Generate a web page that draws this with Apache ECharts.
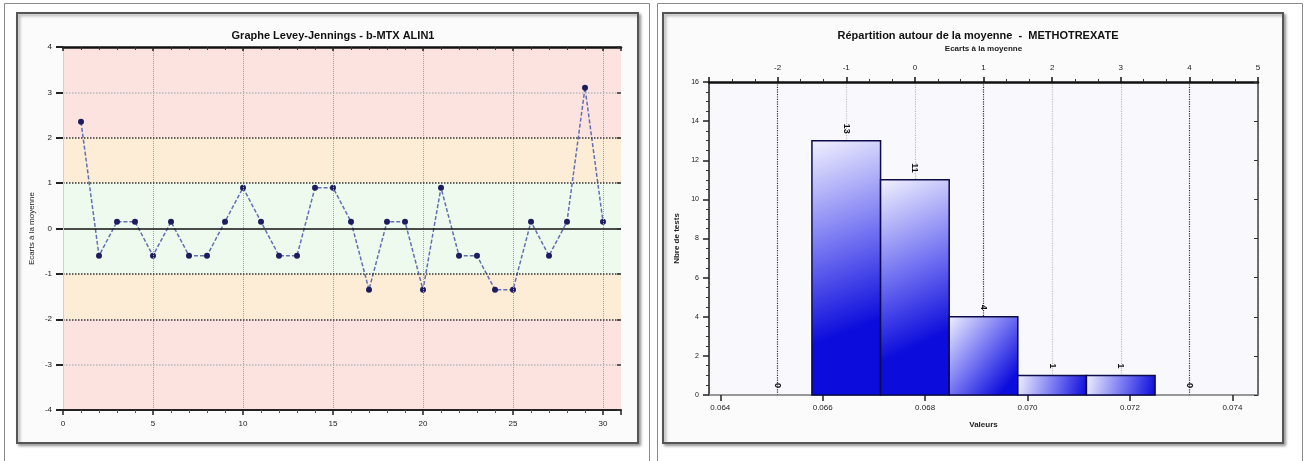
<!DOCTYPE html>
<html>
<head>
<meta charset="utf-8">
<script src="https://cdn.jsdelivr.net/npm/echarts@6/dist/echarts.min.js"></script>
<style>
html,body{margin:0;padding:0;background:#fff;}
#chart{width:1307px;height:461px;}
</style>
</head>
<body>
<div id="chart"></div>
<script>
// ---------- Levey-Jennings data ----------
const runs = [1,2,3,4,5,6,7,8,9,10,11,12,13,14,15,16,17,18,19,20,21,22,23,24,25,26,27,28,29,30];
const zScores = [2.35,-0.6,0.15,0.15,-0.6,0.15,-0.6,-0.6,0.15,0.9,0.15,-0.6,-0.6,0.9,0.9,0.15,-1.35,0.15,0.15,-1.35,0.9,-0.6,-0.6,-1.35,-1.35,0.15,-0.6,0.15,3.1,0.15];
const ljXLabels = [0,5,10,15,20,25,30];
const ljVerticalGrid = [5,10,15,20,25,30];
const ljDarkLimits = [-2,-1,1,2];
const ljLightLimits = [-3,3];

// ---------- Histogram data ----------
const sdCenters = [-2,-1,0,1,2,3,4];
const counts = [0,13,11,4,1,1,0];
const valueTicks = [0.064,0.066,0.068,0.070,0.072,0.074];
const mean = 0.0678;
const sd = 0.00134;

const FONT = "'Liberation Sans', Arial, sans-serif";
const chart = echarts.init(document.getElementById('chart'), null, {renderer:'canvas'});

const ljData = runs.map((r,i)=>[r, zScores[i]]);
const histData = sdCenters.map((s,i)=>[s, counts[i]]);

const barFill = new echarts.graphic.LinearGradient(0, 0, 1, 0.7, [
  {offset:0, color:'#f2f2ff'},
  {offset:0.55, color:'#7474f2'},
  {offset:1, color:'#0c0cdc'}
]);

const gridMarkLines = []
  .concat(ljVerticalGrid.map(v=>({xAxis:v, lineStyle:{color:'#a0a0a0', width:1, type:'dotted'}})))
  .concat(ljDarkLimits.map(v=>({yAxis:v, lineStyle:{color:'#333', width:1.5, type:'dotted'}})))
  .concat(ljLightLimits.map(v=>({yAxis:v, lineStyle:{color:'#b8b8b8', width:1.5, type:'dotted'}})))
  .concat([{yAxis:0, lineStyle:{color:'#111', width:1.5, type:'solid'}}]);

const option = {
  backgroundColor:'#ffffff',
  animation:false,
  textStyle:{fontFamily:FONT},
  graphic:[
    {type:'rect', z:-20, shape:{x:4.5,y:3.5,width:645,height:470}, style:{fill:'#ffffff', stroke:'#8a8a8a', lineWidth:1}},
    {type:'rect', z:-20, shape:{x:657.5,y:3.5,width:645,height:470}, style:{fill:'#ffffff', stroke:'#8a8a8a', lineWidth:1}},
    {type:'rect', z:-19, shape:{x:17,y:13,width:621,height:430}, style:{fill:'#fbfbfc', stroke:'#555', lineWidth:2, shadowColor:'rgba(0,0,0,0.35)', shadowBlur:3, shadowOffsetX:2, shadowOffsetY:2}},
    {type:'rect', z:-19, shape:{x:663,y:13,width:620,height:430}, style:{fill:'#fbfbfc', stroke:'#555', lineWidth:2, shadowColor:'rgba(0,0,0,0.35)', shadowBlur:3, shadowOffsetX:2, shadowOffsetY:2}}
  ],
  title:[
    {text:'Graphe Levey-Jennings - b-MTX ALIN1', left:328, top:25, textAlign:'center',
     textStyle:{fontSize:11, fontWeight:'bold', color:'#111', fontFamily:FONT}},
    {text:'Répartition autour de la moyenne  -  METHOTREXATE', left:973, top:25, textAlign:'center',
     textStyle:{fontSize:11, fontWeight:'bold', color:'#111', fontFamily:FONT}}
  ],
  grid:[
    {left:63, right:686, top:47, bottom:51, containLabel:false},
    {left:709, right:49, top:82, bottom:66, containLabel:false, show:true, backgroundColor:'#f9f9fd', borderWidth:0}
  ],
  xAxis:[
    // 0: LJ bottom
    {gridIndex:0, type:'value', min:0, max:31, interval:5, position:'bottom', z:5,
     axisLine:{onZero:false, lineStyle:{color:'#222', width:2}},
     axisTick:{length:5, lineStyle:{color:'#222', width:1.5}},
     minorTick:{show:true, splitNumber:5, length:3, lineStyle:{color:'#555'}},
     axisLabel:{customValues:ljXLabels, fontSize:8, color:'#222', margin:10, fontFamily:FONT},
     splitLine:{show:false}},
    // 1: LJ top frame
    {gridIndex:0, type:'value', min:0, max:31, interval:5, position:'top', z:5,
     axisLine:{onZero:false, lineStyle:{color:'#111', width:2.5}},
     axisTick:{inside:true, length:4, lineStyle:{color:'#222', width:1.5}},
     minorTick:{show:true, splitNumber:5, length:3, lineStyle:{color:'#333'}},
     axisLabel:{show:false}, splitLine:{show:false}},
    // 2: hist top (SD)
    {gridIndex:1, type:'value', min:-3, max:5, interval:1, position:'top', z:1,
     name:'Ecarts à la moyenne', nameLocation:'middle', nameGap:29,
     nameTextStyle:{fontSize:8, fontWeight:'bold', color:'#222', fontFamily:FONT},
     axisLine:{onZero:false, lineStyle:{color:'#111', width:2.5}},
     axisTick:{length:5, lineStyle:{color:'#111', width:1.5}},
     minorTick:{show:true, splitNumber:3, length:3, lineStyle:{color:'#333'}},
     axisLabel:{showMinLabel:false, fontSize:8, color:'#222', margin:10, fontFamily:FONT},
     splitLine:{show:true, lineStyle:{type:'dotted', width:1.2, color:['#bbbbbb','#333333','#c4c4c4']}}},
    // 3: hist bottom (values)
    {gridIndex:1, type:'value', min:mean-3*sd, max:mean+5*sd, position:'bottom', z:1,
     name:'Valeurs', nameLocation:'middle', nameGap:26,
     nameTextStyle:{fontSize:8, fontWeight:'bold', color:'#222', fontFamily:FONT},
     axisLine:{onZero:false, lineStyle:{color:'#777', width:1.5}},
     axisTick:{customValues:valueTicks, length:6, lineStyle:{color:'#222', width:1.5}},
     axisLabel:{customValues:valueTicks, formatter:v=>v.toFixed(3), fontSize:8, color:'#222', margin:9, fontFamily:FONT},
     splitLine:{show:false}}
  ],
  yAxis:[
    // 0: LJ left
    {gridIndex:0, type:'value', min:-4, max:4, interval:1, z:5,
     name:'Ecarts à la moyenne', nameLocation:'middle', nameGap:27,
     nameTextStyle:{fontSize:8, color:'#222', fontFamily:FONT},
     axisLine:{show:true, onZero:false, lineStyle:{color:'#d0d0d0', width:1}},
     axisTick:{length:7, lineStyle:{color:'#222', width:2}},
     axisLabel:{fontSize:8, color:'#222', margin:11, fontFamily:FONT},
     splitLine:{show:false}},
    // 1: LJ right
    {gridIndex:0, type:'value', min:-4, max:4, interval:1, position:'right', z:5,
     axisLine:{show:false, onZero:false}, axisTick:{inside:true, length:4, lineStyle:{color:'#333', width:1.5}},
     axisLabel:{show:false}, splitLine:{show:false}},
    // 2: hist left
    {gridIndex:1, type:'value', min:0, max:16, interval:2, z:1,
     name:'Nbre de tests', nameLocation:'middle', nameGap:28,
     nameTextStyle:{fontSize:8, fontWeight:'bold', color:'#222', fontFamily:FONT},
     axisLine:{onZero:false, lineStyle:{color:'#222', width:1.5}},
     axisTick:{length:6, lineStyle:{color:'#222', width:1.5}},
     minorTick:{show:true, splitNumber:4, length:3, lineStyle:{color:'#333'}},
     axisLabel:{fontSize:7, color:'#222', margin:10, fontFamily:FONT},
     splitLine:{show:false}},
    // 3: hist right
    {gridIndex:1, type:'value', min:0, max:16, interval:2, position:'right', z:1,
     axisLine:{onZero:false, lineStyle:{color:'#444', width:1.5}},
     axisTick:{inside:true, length:4, lineStyle:{color:'#333'}},
     axisLabel:{show:false}, splitLine:{show:false}}
  ],
  series:[
    { // control zones
      type:'line', xAxisIndex:0, yAxisIndex:0, z:0, data:ljData, showSymbol:false, silent:true,
      lineStyle:{width:0, opacity:0},
      markArea:{silent:true, data:[
        [{yAxis:2, itemStyle:{color:'#fde3e0'}},{yAxis:4}],
        [{yAxis:-4, itemStyle:{color:'#fde3e0'}},{yAxis:-2}],
        [{yAxis:1, itemStyle:{color:'#fdecd6'}},{yAxis:2}],
        [{yAxis:-2, itemStyle:{color:'#fdecd6'}},{yAxis:-1}],
        [{yAxis:-1, itemStyle:{color:'#eefaee'}},{yAxis:1}]
      ]}
    },
    { // grid and limit lines
      type:'line', xAxisIndex:0, yAxisIndex:0, z:1, data:ljData, showSymbol:false, silent:true,
      lineStyle:{width:0, opacity:0},
      markLine:{silent:true, symbol:'none', label:{show:false}, data:gridMarkLines}
    },
    { // levey-jennings points
      type:'line', xAxisIndex:0, yAxisIndex:0, z:3, data:ljData,
      symbol:'circle', symbolSize:6,
      itemStyle:{color:'#1c1c5e'},
      lineStyle:{color:'#6070b4', width:1.5, type:[4,2]}
    },
    { // histogram bars
      type:'custom', xAxisIndex:2, yAxisIndex:2, z:3, data:histData,
      renderItem:function(params, api){
        const c = api.value(0), n = api.value(1);
        const p0 = api.coord([c-0.5, 0]);
        const p1 = api.coord([c+0.5, n]);
        const children = [];
        if (n > 0) {
          children.push({type:'rect',
            shape:{x:p0[0], y:p1[1], width:p1[0]-p0[0], height:p0[1]-p1[1]},
            style:{fill:barFill, stroke:'#0b0b4a', lineWidth:1.5}});
        }
        children.push({type:'text', x:(p0[0]+p1[0])/2, y:p1[1]-7, rotation:-Math.PI/2,
          style:{text:String(n), align:'right', verticalAlign:'middle', fontSize:9, fontWeight:'bold', fill:'#111', fontFamily:FONT}});
        return {type:'group', children:children};
      }
    }
  ]
};
chart.setOption(option);
</script>
</body>
</html>
